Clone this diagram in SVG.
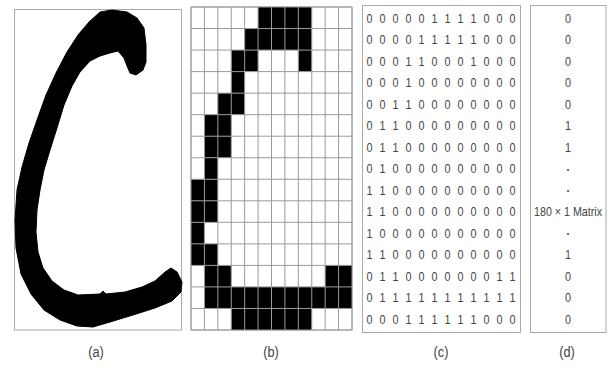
<svg xmlns="http://www.w3.org/2000/svg" width="610" height="374" viewBox="0 0 610 374">
<style>
  .frame { fill: #fff; stroke: #aaa; stroke-width: 1; }
  .dig { font-family: "Liberation Sans Narrow", "Liberation Sans", Arial, sans-serif; font-size: 13.5px; fill: #444; text-anchor: middle; }
  .lbl { font-family: "Liberation Sans Narrow", "Liberation Sans", Arial, sans-serif; font-size: 15px; fill: #444; text-anchor: middle; }
  .cell { fill: #000; }
  .gl { fill: none; stroke: #9a9a9a; stroke-width: 1; }
</style>
<rect x="0" y="0" width="610" height="374" fill="#fff"/>

<g id="panel-a">
  <rect class="frame" x="14.5" y="9.5" width="167" height="320.5"/>
  <path fill="#000" stroke="#000" stroke-width="1" stroke-linejoin="round" d="M100,12 L112,10 L127,12 L137,18 L144,28 L146,45 L146,62 L143,70 L136,75 L130,73 L127,66 L124,58 L118,51 L110,53 L100,56 L90,61 L80,72 L72,86 L64,105 L57,128 L50,150 L44,170 L40,190 L37,210 L36,232 L38,252 L43,268 L52,281 L64,290 L78,295 L100,294 L103,291 L106,294 L125,292 L142,287 L155,281 L165,272 L171,268 L177,272 L182,282 L181,292 L172,301 L155,308 L133,315 L110,322 L93,327 L77,326 L60,320 L44,310 L31,294 L21,274 L16,248 L15,220 L17,190 L22,167 L29,143 L37,120 L46,95 L56,73 L67,52 L78,35 L89,22 Z"/>
  <text class="lbl" x="96" y="357" transform="translate(96,0) scale(0.85,1) translate(-96,0)">(a)</text>
</g>

<g id="panel-b">
  <rect class="frame" x="191" y="7" width="161" height="323"/>
  <g transform="translate(191,7) scale(13.4167,21.5333)">
    <rect class="cell" x="5" y="0" width="4" height="1"/>
    <rect class="cell" x="4" y="1" width="5" height="1"/>
    <rect class="cell" x="3" y="2" width="2" height="1"/>
    <rect class="cell" x="8" y="2" width="1" height="1"/>
    <rect class="cell" x="3" y="3" width="1" height="1"/>
    <rect class="cell" x="2" y="4" width="2" height="1"/>
    <rect class="cell" x="1" y="5" width="2" height="1"/>
    <rect class="cell" x="1" y="6" width="2" height="1"/>
    <rect class="cell" x="1" y="7" width="1" height="1"/>
    <rect class="cell" x="0" y="8" width="2" height="1"/>
    <rect class="cell" x="0" y="9" width="2" height="1"/>
    <rect class="cell" x="0" y="10" width="1" height="1"/>
    <rect class="cell" x="0" y="11" width="2" height="1"/>
    <rect class="cell" x="1" y="12" width="2" height="1"/>
    <rect class="cell" x="10" y="12" width="2" height="1"/>
    <rect class="cell" x="1" y="13" width="11" height="1"/>
    <rect class="cell" x="3" y="14" width="6" height="1"/>
    <path class="gl" vector-effect="non-scaling-stroke" d="M0,0V15M1,0V15M2,0V15M3,0V15M4,0V15M5,0V15M6,0V15M7,0V15M8,0V15M9,0V15M10,0V15M11,0V15M12,0V15M0,0H12M0,1H12M0,2H12M0,3H12M0,4H12M0,5H12M0,6H12M0,7H12M0,8H12M0,9H12M0,10H12M0,11H12M0,12H12M0,13H12M0,14H12M0,15H12"/>
  </g>
  <text class="lbl" x="271" y="357" transform="translate(271,0) scale(0.85,1) translate(-271,0)">(b)</text>
</g>

<g id="panel-c">
  <rect class="frame" x="362.5" y="5.5" width="158" height="327"/>
  <g class="dig" transform="translate(441,0) scale(0.8,1) translate(-441,0)">
    <text x="351.625 367.875 384.125 400.375 416.625 432.875 449.125 465.375 481.625 497.875 514.125 530.375" y="23">000001111000</text>
    <text x="351.625 367.875 384.125 400.375 416.625 432.875 449.125 465.375 481.625 497.875 514.125 530.375" y="44.5">000011111000</text>
    <text x="351.625 367.875 384.125 400.375 416.625 432.875 449.125 465.375 481.625 497.875 514.125 530.375" y="66">000110001000</text>
    <text x="351.625 367.875 384.125 400.375 416.625 432.875 449.125 465.375 481.625 497.875 514.125 530.375" y="87.5">000100000000</text>
    <text x="351.625 367.875 384.125 400.375 416.625 432.875 449.125 465.375 481.625 497.875 514.125 530.375" y="109">001100000000</text>
    <text x="351.625 367.875 384.125 400.375 416.625 432.875 449.125 465.375 481.625 497.875 514.125 530.375" y="130.5">011000000000</text>
    <text x="351.625 367.875 384.125 400.375 416.625 432.875 449.125 465.375 481.625 497.875 514.125 530.375" y="152">011000000000</text>
    <text x="351.625 367.875 384.125 400.375 416.625 432.875 449.125 465.375 481.625 497.875 514.125 530.375" y="173.5">010000000000</text>
    <text x="351.625 367.875 384.125 400.375 416.625 432.875 449.125 465.375 481.625 497.875 514.125 530.375" y="195">110000000000</text>
    <text x="351.625 367.875 384.125 400.375 416.625 432.875 449.125 465.375 481.625 497.875 514.125 530.375" y="216.5">110000000000</text>
    <text x="351.625 367.875 384.125 400.375 416.625 432.875 449.125 465.375 481.625 497.875 514.125 530.375" y="238">100000000000</text>
    <text x="351.625 367.875 384.125 400.375 416.625 432.875 449.125 465.375 481.625 497.875 514.125 530.375" y="259.5">110000000000</text>
    <text x="351.625 367.875 384.125 400.375 416.625 432.875 449.125 465.375 481.625 497.875 514.125 530.375" y="281">011000000011</text>
    <text x="351.625 367.875 384.125 400.375 416.625 432.875 449.125 465.375 481.625 497.875 514.125 530.375" y="302.5">011111111111</text>
    <text x="351.625 367.875 384.125 400.375 416.625 432.875 449.125 465.375 481.625 497.875 514.125 530.375" y="324">000111111000</text>
  </g>
  <text class="lbl" x="441" y="357" transform="translate(441,0) scale(0.85,1) translate(-441,0)">(c)</text>
</g>

<g id="panel-d">
  <rect class="frame" x="530.5" y="5.5" width="75.5" height="327"/>
  <g class="dig" transform="translate(568,0) scale(0.8,1) translate(-568,0)">
    <text x="568" y="23">0</text>
    <text x="568" y="44.5">0</text>
    <text x="568" y="66">0</text>
    <text x="568" y="87.5">0</text>
    <text x="568" y="109">0</text>
    <text x="568" y="130.5">1</text>
    <text x="568" y="152">1</text>
    <text x="568" y="171" font-weight="bold">.</text>
    <text x="568" y="192.5" font-weight="bold">.</text>
    <text x="568" y="216" font-size="12.5" textLength="85" lengthAdjust="spacingAndGlyphs">180 × 1 Matrix</text>
    <text x="568" y="235.5" font-weight="bold">.</text>
    <text x="568" y="259.5">1</text>
    <text x="568" y="281">0</text>
    <text x="568" y="302.5">0</text>
    <text x="568" y="324">0</text>
  </g>
  <text class="lbl" x="567" y="357" transform="translate(567,0) scale(0.85,1) translate(-567,0)">(d)</text>
</g>

<g id="connectors"></g>
</svg>
